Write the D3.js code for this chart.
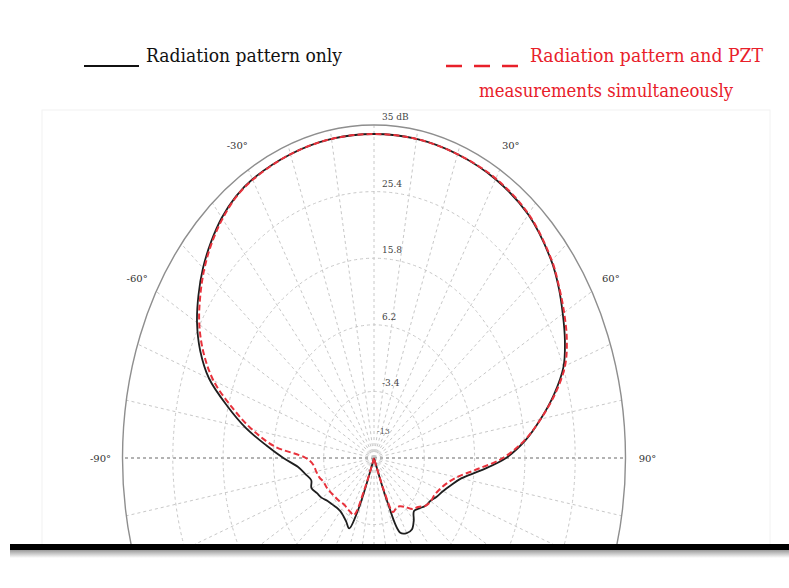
<!DOCTYPE html>
<html>
<head>
<meta charset="utf-8">
<script src="https://cdn.jsdelivr.net/npm/d3@7"></script>
<style>
  body { margin: 0; background: #fff; }
  svg { display: block; }
</style>
</head>
<body>
<svg id="chart" width="789" height="588"></svg>
<script>
// angle in degrees, 0 = broadside (top), clockwise positive
const angles = [-180, -170, -160, -158, -155, -150, -145, -140, -135, -130,
  -125, -120, -115, -110, -105, -100, -95, -90, -85, -80,
  -75, -70, -65, -60, -55, -50, -45, -40, -35, -30,
  -20, -10, 0, 10, 20, 30, 40, 50, 55, 60,
  65, 70, 75, 80, 85, 90, 95, 100, 105, 110,
  115, 120, 125, 130, 135, 140, 145, 150, 155, 158,
  160, 170, 180];

// dB, radiation pattern only (black solid)
const patternOnly = [-13, -13, -12, -5, -1.8, -2.4, -2.8, -3.0, -2.9, -2.6,
  -2.2, -1.5, -1.0, -0.3, -0.6, 0.3, 1.6, 4.3, 7.6, 11.8,
  16.0, 20.5, 23.6, 26.0, 27.9, 29.6, 31.0, 32.2, 33.0, 33.4,
  33.6, 33.7, 33.7, 33.7, 33.6, 33.4, 32.8, 31.2, 30.0, 28.6,
  27.2, 25.5, 22.6, 19.3, 16.0, 12.2, 7.5, 3.9, 2.2, 1.0,
  0.2, -0.6, -1.0, -1.7, -2.2, -1.2, -0.4, -0.5, -1.1, -6,
  -12.5, -13, -13];

// dB, radiation pattern + PZT measurements (red dashed)
const patternPzt = [-13, -13, -12, -8, -3.9, -4.0, -4.1, -4.2, -4.0, -3.8,
  -3.6, -3.3, -3.0, -2.8, -2.2, -1.8, -1.4, 0.0, 6.0, 10.6,
  15.0, 19.6, 22.9, 25.5, 27.5, 29.3, 30.8, 32.0, 32.9, 33.3,
  33.6, 33.7, 33.7, 33.7, 33.6, 33.5, 32.9, 31.3, 30.1, 28.9,
  27.6, 25.8, 22.8, 19.3, 15.8, 11.6, 6.5, 3.0, 1.3, 0.3,
  -0.3, -0.5, -1.0, -2.0, -2.6, -3.8, -4.5, -4.6, -4.4, -8,
  -12.5, -13, -13];

const ringValues = [35, 25.4, 15.8, 6.2, -3.4];
const ringLabels = ['35 dB', '25.4', '15.8', '6.2', '-3.4'];
const angleTicks = [-90, -60, -30, 30, 60, 90];
const angleTickLabels = ['-90°', '-60°', '-30°', '30°', '60°', '90°'];
const spokeAngles = d3.range(-180, 180, 10);

const svg = d3.select('#chart');
const serif = 'DejaVu Serif, Liberation Serif, serif';
const cx = 374, cy = 458, rx = 251.5, ry = 333;
const rad = d => d * Math.PI / 180;

const r = d3.scaleLinear().domain([-13, 35]).range([0, 1]).clamp(true);
const x = d3.scaleLinear().domain([-1, 1]).range([cx - rx, cx + rx]);
const y = d3.scaleLinear().domain([-1, 1]).range([cy + ry, cy - ry]);
const px = (a, v) => x(r(v) * Math.sin(rad(a)));
const py = (a, v) => y(r(v) * Math.cos(rad(a)));

// faint frame of the pasted figure
svg.append('rect')
  .attr('x', 42).attr('y', 110).attr('width', 728).attr('height', 436)
  .attr('fill', 'none').attr('stroke', '#f2f2f2');

svg.append('clipPath').attr('id', 'clip')
  .append('rect').attr('x', 0).attr('y', 0).attr('width', 789).attr('height', 545);

const g = svg.append('g').attr('clip-path', 'url(#clip)');

// spokes
g.selectAll('line.spoke').data(spokeAngles).enter().append('line')
  .attr('class', 'spoke')
  .attr('x1', cx).attr('y1', cy)
  .attr('x2', d => px(d, 35)).attr('y2', d => py(d, 35))
  .attr('stroke', d => Math.abs(d) === 90 ? '#9a9a9a' : '#c8c8c8')
  .attr('stroke-width', d => Math.abs(d) === 90 ? 1.4 : 1)
  .attr('stroke-dasharray', '3,3');

// rings
g.selectAll('ellipse.ring').data(ringValues).enter().append('ellipse')
  .attr('class', 'ring')
  .attr('cx', cx).attr('cy', cy)
  .attr('rx', d => x(r(d)) - cx)
  .attr('ry', d => cy - y(r(d)))
  .attr('fill', 'none')
  .attr('stroke', (d, i) => i === 0 ? '#8e8e8e' : '#c8c8c8')
  .attr('stroke-width', (d, i) => i === 0 ? 1.4 : 1)
  .attr('stroke-dasharray', (d, i) => i === 0 ? null : '3,3');

// ring labels
svg.selectAll('text.ringlab').data(ringValues).enter().append('text')
  .attr('class', 'ringlab')
  .attr('x', cx + 8)
  .attr('y', d => py(0, d) - 5)
  .attr('font-family', serif)
  .attr('font-size', 9)
  .attr('fill', '#444')
  .text((d, i) => ringLabels[i]);

svg.append('text')
  .attr('x', cx + 3).attr('y', cy - 24)
  .attr('font-family', serif)
  .attr('font-size', 8).attr('fill', '#555')
  .text('-13');

// angle labels
svg.selectAll('text.anglab').data(angleTicks).enter().append('text')
  .attr('class', 'anglab')
  .attr('x', d => cx + (rx + 22) * Math.sin(rad(d)))
  .attr('y', d => cy - (ry + 28) * Math.cos(rad(d)) + 4)
  .attr('text-anchor', 'middle')
  .attr('font-family', serif)
  .attr('font-size', 10)
  .attr('fill', '#333')
  .text((d, i) => angleTickLabels[i]);

const line = d3.line()
  .x((d, i) => px(angles[i], d))
  .y((d, i) => py(angles[i], d))
  .curve(d3.curveCatmullRom.alpha(0.5));

g.append('path').datum(patternOnly)
  .attr('d', line)
  .attr('fill', 'none')
  .attr('stroke', '#1e1e1e')
  .attr('stroke-width', 1.8)
  .attr('stroke-linejoin', 'round');

g.append('path').datum(patternPzt)
  .attr('d', line)
  .attr('fill', 'none')
  .attr('stroke', '#e8323c')
  .attr('stroke-width', 2)
  .attr('stroke-dasharray', '6,3')
  .attr('stroke-linejoin', 'round');

// bottom bar with a soft shadow
const grad = svg.append('defs').append('linearGradient')
  .attr('id', 'shadow').attr('x1', 0).attr('y1', 0).attr('x2', 0).attr('y2', 1);
grad.append('stop').attr('offset', '0%').attr('stop-color', '#9a9a9a');
grad.append('stop').attr('offset', '100%').attr('stop-color', '#fff');
svg.append('rect').attr('x', 10).attr('y', 550).attr('width', 779).attr('height', 8)
  .attr('fill', 'url(#shadow)');
svg.append('rect').attr('x', 10).attr('y', 544).attr('width', 779).attr('height', 6)
  .attr('fill', '#000');

// legend
svg.append('line')
  .attr('x1', 84).attr('x2', 139).attr('y1', 66).attr('y2', 66)
  .attr('stroke', '#111').attr('stroke-width', 2);
svg.append('text')
  .attr('x', 146).attr('y', 62)
  .attr('font-family', serif)
  .attr('font-size', 19)
  .attr('textLength', 196).attr('lengthAdjust', 'spacingAndGlyphs')
  .attr('fill', '#111')
  .text('Radiation pattern only');

svg.append('line')
  .attr('x1', 446).attr('x2', 518).attr('y1', 66).attr('y2', 66)
  .attr('stroke', '#e8202a').attr('stroke-width', 2.5)
  .attr('stroke-dasharray', '16,12');
svg.append('text')
  .attr('x', 530).attr('y', 62)
  .attr('font-family', serif)
  .attr('font-size', 19)
  .attr('textLength', 233).attr('lengthAdjust', 'spacingAndGlyphs')
  .attr('fill', '#e8202a')
  .text('Radiation pattern and PZT');
svg.append('text')
  .attr('x', 479).attr('y', 97)
  .attr('font-family', serif)
  .attr('font-size', 19)
  .attr('textLength', 254).attr('lengthAdjust', 'spacingAndGlyphs')
  .attr('fill', '#e8202a')
  .text('measurements simultaneously');
</script>
</body>
</html>
